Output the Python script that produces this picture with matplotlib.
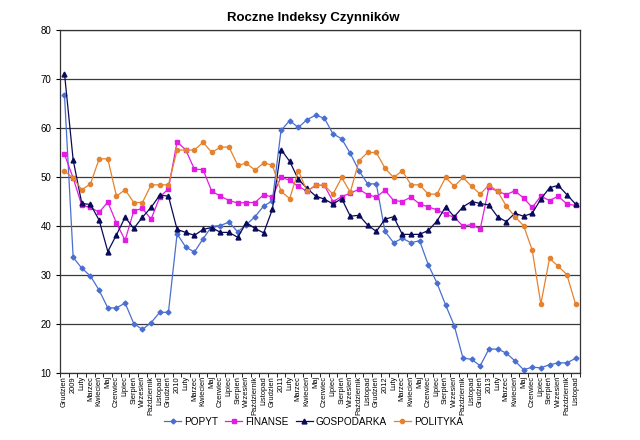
#!/usr/bin/env python3
"""Roczne Indeksy Czynników - monthly index lines, Dec 2008 .. Nov 2013."""

import numpy as np
import matplotlib
matplotlib.use('Agg')
import matplotlib.pyplot as plt
from matplotlib.ticker import FixedLocator

plt.rcParams['font.family'] = ['Liberation Sans', 'DejaVu Sans']

MONTHS = ['Luty', 'Marzec', 'Kwiecień', 'Maj', 'Czerwiec', 'Lipiec',
          'Sierpień', 'Wrzesień', 'Październik', 'Listopad', 'Grudzień']
x_labels = ['Grudzień']
for year in ['2009', '2010', '2011', '2012', '2013']:
    x_labels += [year] + MONTHS
x_labels = x_labels[:60]

popyt = [66.7, 33.6, 31.4, 29.8, 26.9, 23.3, 23.3, 24.3, 20.1, 18.9,
         20.3, 22.4, 22.4, 38.4, 35.7, 34.7, 37.4, 39.9, 40.1, 40.8,
         38.8, 40.3, 41.9, 44.1, 45.1, 59.5, 61.5, 60.1, 61.7, 62.6,
         62.0, 58.8, 57.8, 54.8, 51.3, 48.6, 48.6, 38.9, 36.6, 37.5,
         36.6, 37.0, 32.1, 28.4, 23.9, 19.7, 13.1, 12.8, 11.5, 14.9,
         14.9, 14.1, 12.5, 10.7, 11.2, 11.1, 11.7, 12.1, 12.1, 13.0]

finanse = [54.6, 49.8, 44.2, 43.8, 42.8, 44.9, 40.6, 37.1, 43.1, 43.6,
           41.4, 45.9, 47.6, 57.2, 55.5, 51.6, 51.5, 47.1, 46.1, 45.2,
           44.7, 44.8, 44.8, 46.4, 45.9, 50.0, 49.3, 48.1, 47.1, 48.3,
           48.3, 45.0, 46.0, 46.7, 47.5, 46.4, 45.9, 47.3, 45.2, 45.0,
           45.9, 44.5, 43.9, 43.3, 42.4, 41.8, 40.0, 40.3, 39.4, 47.9,
           47.1, 46.4, 47.2, 45.7, 43.8, 46.1, 45.2, 46.1, 44.5, 44.2]

gospodarka = [71.1, 53.5, 44.6, 44.4, 41.2, 34.8, 38.2, 41.8, 39.5, 41.8,
              43.8, 46.3, 46.1, 39.3, 38.7, 38.1, 39.3, 39.7, 38.7, 38.7,
              37.7, 40.7, 39.5, 38.6, 43.4, 55.6, 53.2, 49.5, 47.7, 46.1,
              45.5, 44.5, 45.6, 42.0, 42.2, 40.2, 38.9, 41.4, 41.9, 38.3,
              38.3, 38.3, 39.1, 41.0, 43.9, 41.9, 43.9, 45.0, 44.6, 44.3,
              41.9, 40.9, 42.6, 42.0, 42.6, 45.5, 47.8, 48.3, 46.4, 44.5]

polityka = [51.2, 49.8, 47.4, 48.6, 53.7, 53.7, 46.1, 47.4, 44.8, 44.8,
            48.4, 48.4, 48.4, 55.5, 55.5, 55.5, 57.1, 55.0, 56.1, 56.1,
            52.4, 52.8, 51.4, 52.9, 52.4, 47.1, 45.6, 51.3, 47.1, 48.3,
            48.3, 46.5, 49.9, 46.9, 53.3, 55.0, 55.0, 51.8, 49.9, 51.3,
            48.4, 48.4, 46.5, 46.5, 49.9, 48.1, 49.9, 48.1, 46.5, 48.4,
            47.1, 44.1, 41.9, 40.1, 35.1, 24.1, 33.4, 31.8, 30.1, 24.1]

SERIES = [
    ('POPYT', popyt, '#4A6FD0', 'D', 2.5),
    ('FINANSE', finanse, '#E21CE2', 's', 3.0),
    ('GOSPODARKA', gospodarka, '#0A0A5A', '^', 3.5),
    ('POLITYKA', polityka, '#E5822E', 'o', 3.0),
]


def main():
    fig = plt.figure(figsize=(6.4, 4.4), dpi=100)
    ax = fig.add_axes([0.094, 0.152, 0.812, 0.780])

    x = np.arange(len(x_labels))
    for name, vals, color, marker, ms in SERIES:
        ax.plot(x, vals, color=color, linewidth=0.9, marker=marker,
                markersize=ms, markerfacecolor=color, markeredgecolor=color,
                label=name)

    ax.set_xlim(-0.5, len(x_labels) - 0.5)
    ax.set_ylim(10, 80)
    ax.set_yticks(range(10, 81, 10))
    ax.tick_params(axis='y', labelsize=7, length=3, direction='out')

    ax.set_xticks(x)
    ax.set_xticklabels(x_labels, rotation=90, fontsize=5.4)
    ax.tick_params(axis='x', length=0, pad=2)
    ax.xaxis.set_minor_locator(FixedLocator(np.arange(-0.5, len(x_labels), 1)))
    ax.tick_params(axis='x', which='minor', length=3, direction='out')

    ax.yaxis.grid(True, color='#3a3a3a', linewidth=0.9)
    ax.xaxis.grid(False)
    ax.set_axisbelow(True)
    for spine in ax.spines.values():
        spine.set_color('#333333')
        spine.set_linewidth(0.9)

    fig.text(0.49, 0.958, 'Roczne Indeksy Czynników', ha='center', va='center',
             fontsize=9.5, fontweight='bold')

    fig.legend(loc='center', bbox_to_anchor=(0.49, 0.041), ncol=4,
               frameon=False, fontsize=7.2, handlelength=1.7,
               columnspacing=0.7, handletextpad=0.3)

    fig.savefig('out.png', dpi=100, facecolor='white')


if __name__ == '__main__':
    main()
